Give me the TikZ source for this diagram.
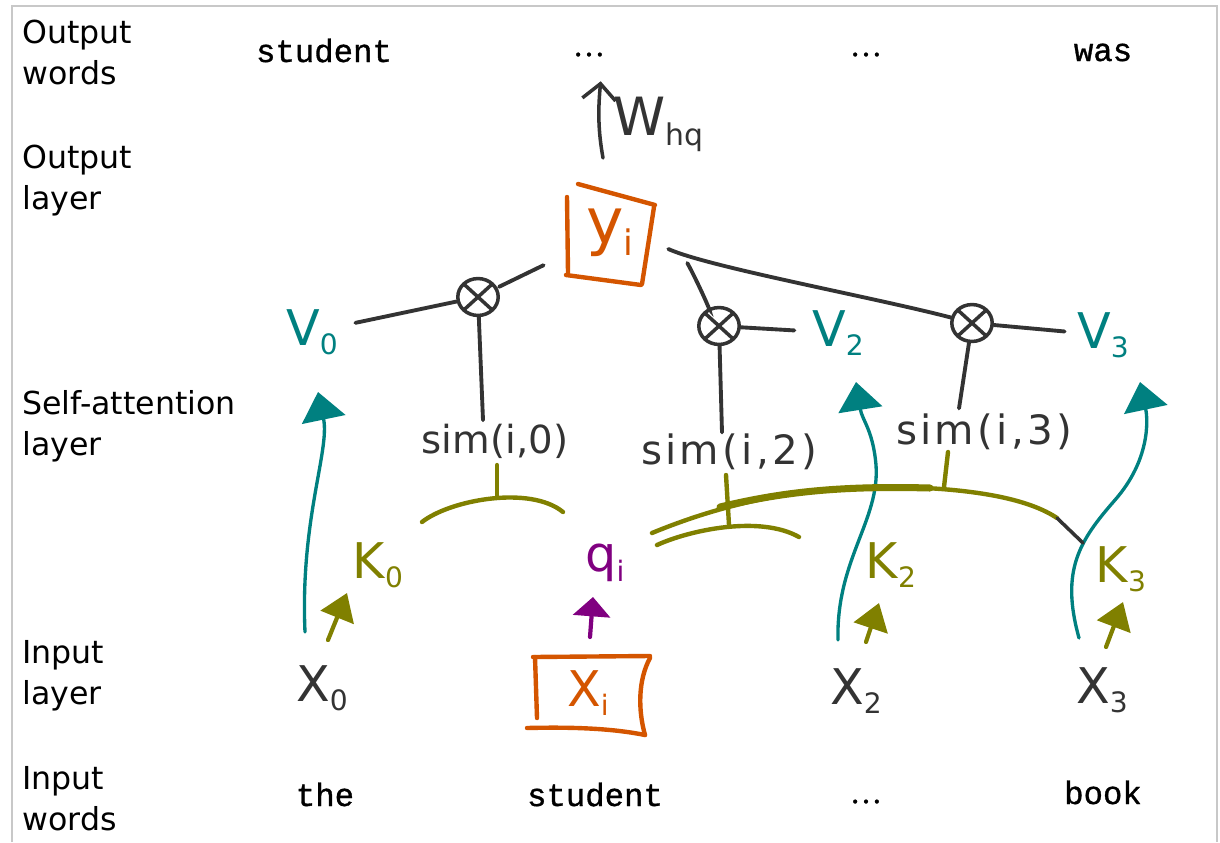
\documentclass[tikz,border=0pt]{standalone}
\usepackage{fontspec}
\setmainfont{DejaVu Sans}
\newfontfamily\monofont[FakeBold=1]{Liberation Mono}
\newfontfamily\dotsfont[FakeBold=1]{Liberation Serif}
\usetikzlibrary{arrows.meta,calc}

\definecolor{ink}{HTML}{333333}
\definecolor{tealc}{HTML}{008080}
\definecolor{olivec}{HTML}{808000}
\definecolor{purplec}{HTML}{800080}
\definecolor{orangec}{HTML}{D45500}
\definecolor{framec}{HTML}{C8C8C8}

\newcommand\subs[2][16]{\raisebox{-0.35ex}{\fontsize{#1}{#1}\selectfont #2}}

\tikzset{
  lbl/.style={anchor=base west, inner sep=0pt, text=black, font=\fontsize{18}{23.8}\selectfont},
  word/.style={anchor=base, inner sep=0pt, font=\monofont\fontsize{18.4}{22}\selectfont},
  dotsw/.style={anchor=base, inner sep=0pt, font=\dotsfont\fontsize{18.4}{22}\selectfont},
  hand/.style={inner sep=2pt, font=\fontsize{28}{30}\selectfont},
  simlbl/.style={inner sep=3pt, text=ink, font=\fontsize{22}{26}\selectfont},
  otimes/.style={ellipse, draw=ink, line width=2pt, minimum width=23pt, minimum height=21pt, inner sep=0pt,
    path picture={\draw[ink, line width=2pt]
      (path picture bounding box.south west) -- (path picture bounding box.north east)
      (path picture bounding box.north west) -- (path picture bounding box.south east);}},
  conn/.style={draw=ink, line width=2.2pt, line cap=round},
  warrow/.style={draw=ink, line width=2pt, line cap=round, -{Straight Barb[width=19pt,length=9pt,line width=2pt]}},
  tarrow/.style={draw=tealc, line width=1.9pt, line cap=round, -{Triangle[width=25pt,length=16pt]}},
  oarrow/.style={draw=olivec, line width=2.4pt, line cap=round, -{Triangle[width=20pt,length=15pt]}},
  parrow/.style={draw=purplec, line width=2.4pt, line cap=round, -{Triangle[width=21pt,length=11pt]}},
  olv/.style={draw=olivec, line width=2.5pt, line cap=round},
  obox/.style={draw=orangec, line width=2.5pt, line cap=round},
}
\usetikzlibrary{shapes.geometric}

\begin{document}
\begin{tikzpicture}[x=0.02cm, y=-0.02cm]
\useasboundingbox (0,0) rectangle (1220,842);
\draw[framec, line width=1.5pt] (12,842) -- (12,6) -- (1217,6) -- (1217,842);

% left labels
\node[lbl] (l1) at (22,43) {\begin{tabular}[t]{@{}l@{}}Output\\words\end{tabular}};
\node[lbl] (l2) at (22,168) {\begin{tabular}[t]{@{}l@{}}Output\\layer\end{tabular}};
\node[lbl] (l3) at (22,414) {\begin{tabular}[t]{@{}l@{}}Self-attention\\layer\end{tabular}};
\node[lbl] (l4) at (22,663) {\begin{tabular}[t]{@{}l@{}}Input\\layer\end{tabular}};
\node[lbl] (l5) at (22,789) {\begin{tabular}[t]{@{}l@{}}Input\\words\end{tabular}};

% output words
\node[word] (ow1) at (324,62) {student};
\node[dotsw] (ow2) at (589,56) {…};
\node[dotsw] (ow3) at (866,56) {…};
\node[word] (ow4) at (1103,61) {was};

% input words
\node[word] (iw1) at (325,806) {the};
\node[word] (iw2) at (595,806) {student};
\node[dotsw] (iw3) at (866,803) {…};
\node[word] (iw4) at (1103,804) {book};

% output node y_i
\node[inner sep=0pt, minimum width=50pt, minimum height=51pt, text=orangec,
      font=\fontsize{36}{38}\selectfont] (Y) at (610,233) {y\subs[20]{i}};
\draw[obox] (567,197) -- (568,273);
\draw[obox] (566,275) -- (641,285);
\draw[obox] (654,207) -- (642,284);
\draw[obox] (578,184) -- (655,205);

% W_hq arrow
\coordinate (wa) at (603,158);
\draw[warrow, shorten >=14pt] (wa) .. controls (598,130) and (598,110) .. (wa |- ow2.south);
\node[hand, text=ink, font=\fontsize{30}{32}\selectfont] (W) at (658,124) {W\subs[17]{hq}};

% multiplication nodes
\node[otimes] (m0) at (478,297) {};
\node[otimes] (m2) at (719,326) {};
\node[otimes] (m3) at (972,323) {};

% value labels
\node[hand, text=tealc] (V0) at (312,332) {V\subs{0}};
\node[hand, text=tealc] (V2) at (838,333) {V\subs{2}};
\node[hand, text=tealc] (V3) at (1103,335) {V\subs{3}};

% similarity labels
\node[simlbl] (sim0) at (495,441) {sim(i,0)};
\node[simlbl, font=\fontsize{23}{26}\selectfont\addfontfeature{LetterSpace=8}] (sim2) at (729,452) {sim(i,2)};
\node[simlbl, font=\fontsize{23}{26}\selectfont\addfontfeature{LetterSpace=8}] (sim3) at (984,432) {sim(i,3)};

% key / query labels
\node[hand, text=olivec] (K0) at (378,565) {K\subs{0}};
\node[hand, text=purplec] (q) at (605,563) {q\subs{i}};
\node[hand, text=olivec] (K2) at (891,565) {K\subs{2}};
\node[hand, text=olivec] (K3) at (1121,569) {K\subs{3}};

% input layer
\node[hand, text=ink] (X0) at (322,688) {X\subs{0}};
\node[hand, text=orangec] (Xi) at (588,693) {X\subs{i}};
\node[hand, text=ink] (X2) at (856,691) {X\subs{2}};
\node[hand, text=ink] (X3) at (1102,690) {X\subs{3}};
\draw[obox] (533,657) -- (650,656);
\draw[obox] (535,657) -- (537,718);
\draw[obox] (527,728) .. controls (570,727) and (610,728) .. (645,735);
\draw[obox] (650,658) .. controls (638,680) and (638,710) .. (645,735);

% connectors from y_i
\draw[conn, shorten <=14pt, shorten >=1pt] (Y) -- (m0);
\draw[conn] ($(Y.east)+(33,30)$) .. controls +(8,14) and +(-6,-10) .. (m2);
\draw[conn] ($(Y.east)+(14,16)$) .. controls +(40,18) and +(-100,-26) .. (m3);

% connectors to values and similarities
\draw[conn, shorten >=8pt] (m0) -- (V0);
\draw[conn, shorten >=8pt] (m2) -- (V2);
\draw[conn, shorten >=5pt] (m3) -- (V3);
\draw[conn] (m0) -- ($(m0 |- sim0.north)+(5,2)$);
\draw[conn] (m2) -- ($(m2 |- sim2.north)+(3,4)$);
\draw[conn] (m3) -- ($(m3 |- sim3.north)+(-13,0)$);

% teal value arrows
\draw[tarrow] ($(X0)+(-17,-56)$) .. controls ($(X0)+(-22,-168)$) and ($(V0)+(18,118)$) .. ($(V0)+(6,60)$);
\draw[tarrow] ($(X2)+(-18,-51)$) .. controls (836,560) and (880,520) .. (876,465)
   .. controls (873,430) and (862,420) .. ($(V2)+(18,49)$);
\draw[tarrow] ($(X3)+(-23,-52)$) .. controls (1060,570) and (1080,540) .. (1115,500)
   .. controls (1150,460) and (1148,420) .. ($(V3)+(37,47)$);

% olive key arrows and purple query arrow
\draw[oarrow] ($(X0)+(6,-48)$) -- ($(K0)+(-31,28)$);
\draw[oarrow] ($(X2)+(10,-49)$) -- ($(K2)+(-12,38)$);
\draw[oarrow] ($(X3)+(4,-43)$) -- ($(K3)+(2,33)$);
\draw[parrow] ($(Xi)+(2,-56)$) -- ($(q)+(-12,34)$);

% olive brackets (dot products)
\draw[olv] (422,522) .. controls (450,500) and (530,485) .. (563,512);
\draw[olv] (497,497) -- (497,465);
\draw[olv] (657,545) .. controls (690,530) and (760,515) .. (799,537);
\draw[olv] (729,525) -- (726,475);
\draw[olv] (652,533) .. controls (720,505) and (800,485) .. (900,487)
   .. controls (980,489) and (1030,500) .. (1057,518);
\draw[olivec, line width=4pt, line cap=round] (720,507) .. controls (790,490) and (850,486) .. (930,488);
\draw[olv] (944,487) -- (948,452);
\draw[conn, line width=2pt] (1057,518) -- (1083,543);
\end{tikzpicture}
\end{document}
